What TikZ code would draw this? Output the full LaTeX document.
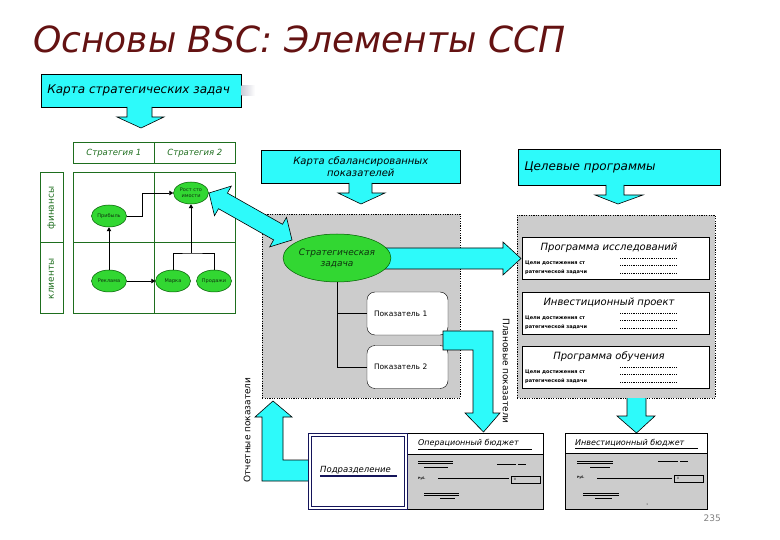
\documentclass[tikz,border=0pt]{standalone}
\usepackage{fontspec}
\setmainfont{DejaVu Sans}
\usetikzlibrary{arrows.meta,calc,shapes.geometric}
\definecolor{cyfill}{RGB}{45,250,250}
\definecolor{titlered}{RGB}{100,18,18}
\definecolor{tabgreen}{RGB}{30,110,30}
\definecolor{ellfill}{RGB}{50,215,50}
\definecolor{ellline}{RGB}{0,90,0}
\definecolor{elltext}{RGB}{15,50,15}
\definecolor{areagray}{RGB}{204,204,204}
\definecolor{navyline}{RGB}{20,20,90}
\newcommand{\fsz}[1]{\fontsize{#1}{#1}\selectfont}
\tikzset{
  cybox/.style={draw=black, fill=cyfill, line width=0.6pt, inner ysep=0pt},
  cyarrow/.style={draw=black, fill=cyfill, line width=0.6pt, line join=miter},
  tabcell/.style={draw=tabgreen, line width=0.7pt, inner sep=0pt, text=tabgreen},
  tabline/.style={draw=tabgreen, line width=0.7pt},
  gell/.style={ellipse, draw=ellline, fill=ellfill, inner sep=0pt, line width=0.5pt, text=elltext},
  smallell/.style={gell, minimum width=35, minimum height=22, font=\fsz{5}, align=center},
  tarrow/.style={line width=0.6pt, -{Triangle[length=4pt,width=4.5pt]}},
  area/.style={fill=areagray, draw=black, dash pattern=on 1.2pt off 1.2pt, line width=0.5pt, inner sep=0pt},
  pbox/.style={draw=black, fill=white, rounded corners=8pt, minimum width=81, minimum height=43, text width=67, align=left, inner xsep=7pt, font=\fsz{7.5}},
  progbox/.style={draw=black, fill=white, line width=0.6pt, minimum width=187, minimum height=42, inner sep=0pt},
  progtitle/.style={font=\fsz{10}\itshape},
  tinytext/.style={font=\fsz{5}\bfseries, anchor=west, inner sep=0pt},
  dotl/.style={line width=0.4pt, dash pattern=on 1pt off 0.8pt},
  rotlabel/.style={font=\fsz{9}, inner sep=0pt},
}
\begin{document}
\begin{tikzpicture}[x=1pt,y=-1pt]
\path[use as bounding box, fill=white] (0,0) rectangle (780,540);

% title
\node[anchor=base west, text=titlered, font=\fsz{36}\itshape, inner sep=0pt] (title) at (33,53) {Основы BSC: Элементы ССП};

% map of strategic tasks
\node[cybox, anchor=north west, minimum width=200, minimum height=33, text width=188, align=left, inner xsep=6pt, font=\fsz{12}\itshape] (kz) at (41,74) {Карта стратегических задач};
\shade[left color=blue!12!gray!35, right color=white] (241.5,86) rectangle (255,96);
\draw[cyarrow] (127,107) -- (127,117) -- (117,117) -- (141,128) -- (164,117) -- (152,117) -- (152,107);

% strategy table
\node[tabcell, anchor=north west, minimum width=81, minimum height=21, font=\fsz{8.5}\itshape] (st1) at (73,142) {Стратегия 1};
\node[tabcell, anchor=north west, minimum width=81, minimum height=21, font=\fsz{8.5}\itshape] (st2) at (154,142) {Стратегия 2};
\draw[tabline] (73,172) rectangle (235,313) (154,172) -- (154,313) (73,242) -- (235,242);
\draw[tabline] (40,172) rectangle (63,313) (40,242) -- (63,242);
\node[rotlabel, rotate=90, text=tabgreen] (fin) at (51.5,208) {финансы};
\node[rotlabel, rotate=90, text=tabgreen] (kli) at (51.5,279) {клиенты};

\node[smallell] (prib) at (109,216) {Прибыль};
\node[smallell] (rost) at (191,193) {Рост сто\\[1pt]имости};
\node[smallell] (rekl) at (109,281) {Реклама};
\node[smallell] (marka) at (173,281) {Марка};
\node[smallell] (prod) at (214,281) {Продажи};
\coordinate (jn) at (191,253);
\draw[tarrow] (rekl) -- (prib);
\draw[tarrow] (prib.east) -- ++(16,0) |- (rost.west);
\draw[tarrow] (rekl) -- (marka);
\draw[line width=0.6pt] (marka.north) |- (jn) -| (prod.north);
\draw[tarrow] (jn) -- (rost.south);

% grey areas
\node[area, anchor=north west, minimum width=198, minimum height=184] (mid) at (262,214) {};
\node[area, anchor=north west, minimum width=198, minimum height=183] (rarea) at (517,215) {};

% balanced scorecard
\node[cybox, anchor=north west, minimum width=199, minimum height=33, align=center, font=\fsz{10}\itshape] (ksp) at (261,150) {Карта сбалансированных\\[2pt]показателей};
\draw[cyarrow] (349,183) -- (349,193) -- (338,193) -- (361,204) -- (385,193) -- (372,193) -- (372,183);

% target programs
\node[cybox, anchor=north west, minimum width=202, minimum height=36, text width=190, align=left, inner xsep=6pt, font=\fsz{12}\itshape] (cp) at (518,149) {Целевые программы};
\draw[cyarrow] (606,185) -- (606,195) -- (595,195) -- (618,204) -- (643,195) -- (624,195) -- (624,185);

% arrow strategic task -> programs
\draw[cyarrow] (370,248) -- (503,248) -- (503,242) -- (521,258.5) -- (503,275) -- (503,269) -- (370,269) -- cycle;

% strategic task
\node[gell, minimum width=104, minimum height=48, font=\fsz{9}\itshape, align=center] (sz) at (337,258) {Стратегическая\\[2pt]задача};

% double arrow table <-> strategic task
\draw[cyarrow] (209,193) -- (214.5,215.7) -- (218.5,208.7) -- (273.6,239.9) -- (269.7,246.9) -- (292,240) -- (286.5,217.3) -- (282.5,224.3) -- (227.4,193.1) -- (231.3,186.1) -- cycle;

% indicators
\node[pbox] (p1) at (407.5,313.5) {Показатель 1};
\node[pbox] (p2) at (407.5,367) {Показатель 2};
\draw[line width=0.6pt] (sz.south) -- (sz.south |- p2.west) -- (p2.west);
\draw[line width=0.6pt] (sz.south |- p1.west) -- (p1.west);

% planned indicators arrow
\draw[cyarrow] (443,331) -- (493,331) -- (493,413) -- (500,413) -- (483.5,432) -- (465,413) -- (473,413) -- (473,350) -- (443,350) -- cycle;
\node[rotlabel, rotate=-90] (plan) at (506,371) {Плановые показатели};

% programs
\foreach \top/\ttl/\nm in {237/{Программа исследований}/a, 292/{Инвестиционный проект}/b, 346/{Программа обучения}/c}{
  \node[progbox, anchor=north west] (prog\nm) at (522,\top) {};
  \node[progtitle] (prog\nm t) at (609,\top+10.5) {\ttl};
  \node[tinytext] (prog\nm x) at (525,\top+26) {Цели достижения ст};
  \node[tinytext] (prog\nm y) at (525,\top+35.5) {ратегической задачи};
  \draw[dotl] (620,\top+21) -- (677,\top+21) (620,\top+28.5) -- (677,\top+28.5) (620,\top+36) -- (677,\top+36);
}

% reported indicators arrow
\draw[cyarrow] (308,460) -- (283,460) -- (283,417) -- (292,417) -- (273,401) -- (255,417) -- (262,417) -- (262,481) -- (308,481);
\node[rotlabel, rotate=90] (otch) at (247,430) {Отчетные показатели};

% arrow right area -> investment budget
\draw[cyarrow] (627,398) -- (627,416) -- (617,416) -- (636.5,433) -- (655,416) -- (646,416) -- (646,398);

% operating budget
\node[draw, line width=0.6pt, fill=white, anchor=north west, minimum width=235, minimum height=76, inner sep=0pt] (ob) at (308,433) {};
\fill[areagray] (407,454) rectangle (543,509);
\draw[line width=0.6pt] (ob.north west) rectangle (ob.south east) (407,454) -- (543,454);
\draw[line width=0.6pt, navyline] (308,433) rectangle (407,509) (311,436) rectangle (404,506);
\node[anchor=base west, inner sep=0pt, font=\fsz{8.5}\itshape] (podr) at (320,472) {Подразделение};
\draw[navyline, line width=1.3pt] (320,476) -- (397,476);
\node[anchor=base west, inner sep=0pt, font=\fsz{8}\itshape] (opb) at (418,446) {Операционный бюджет};
\draw[line width=0.6pt] (418,449.5) -- (532,449.5);
\draw[line width=0.5pt] (418,461) -- (453,461) (418,463.5) -- (453,463.5) (424,467) -- (448,467)
  (497,464) -- (516,464) (518,464) -- (526,464)
  (438,478.5) -- (509,478.5)
  (424,493) -- (459,493) (424,495.5) -- (459,495.5) (440,498) -- (455,498);
\node[tinytext, font=\fsz{3}\bfseries] (opr) at (418,478.5) {Руб.};
\node[draw, line width=0.5pt, anchor=north west, minimum width=29, minimum height=7, inner sep=0pt] (opbox) at (511,475.5) {};
\node[tinytext, font=\fsz{3}] (op0) at (514,479) {0};

% investment budget
\node[draw, line width=0.6pt, fill=white, anchor=north west, minimum width=142, minimum height=76, inner sep=0pt] (ib) at (565,433) {};
\fill[areagray] (565,453) rectangle (707,509);
\draw[line width=0.6pt] (ib.north west) rectangle (ib.south east) (565,453) -- (707,453);
\node[anchor=base west, inner sep=0pt, font=\fsz{8}\itshape] (ibt) at (575,445) {Инвестиционный бюджет};
\draw[line width=0.6pt] (575,448.5) -- (698,448.5);
\draw[line width=0.5pt] (577,461) -- (613,461) (577,463.5) -- (613,463.5) (590,467) -- (610,467)
  (658,461) -- (678,461) (680,461) -- (688,461)
  (597,478.5) -- (672,478.5)
  (583,493) -- (619,493) (583,495.5) -- (619,495.5) (595,498) -- (612,498);
\node[tinytext, font=\fsz{3}\bfseries] (ibr) at (577,478) {Руб.};
\node[draw, line width=0.5pt, anchor=north west, minimum width=29, minimum height=7, inner sep=0pt] (ibbox) at (674,475) {};
\node[tinytext, font=\fsz{3}] (ib0) at (677,478.5) {0};
\fill (647,504) circle (0.5);

% page number
\node[anchor=base east, inner sep=0pt, text=gray, font=\fsz{9}] (pg) at (721,521) {235};
\end{tikzpicture}
\end{document}
